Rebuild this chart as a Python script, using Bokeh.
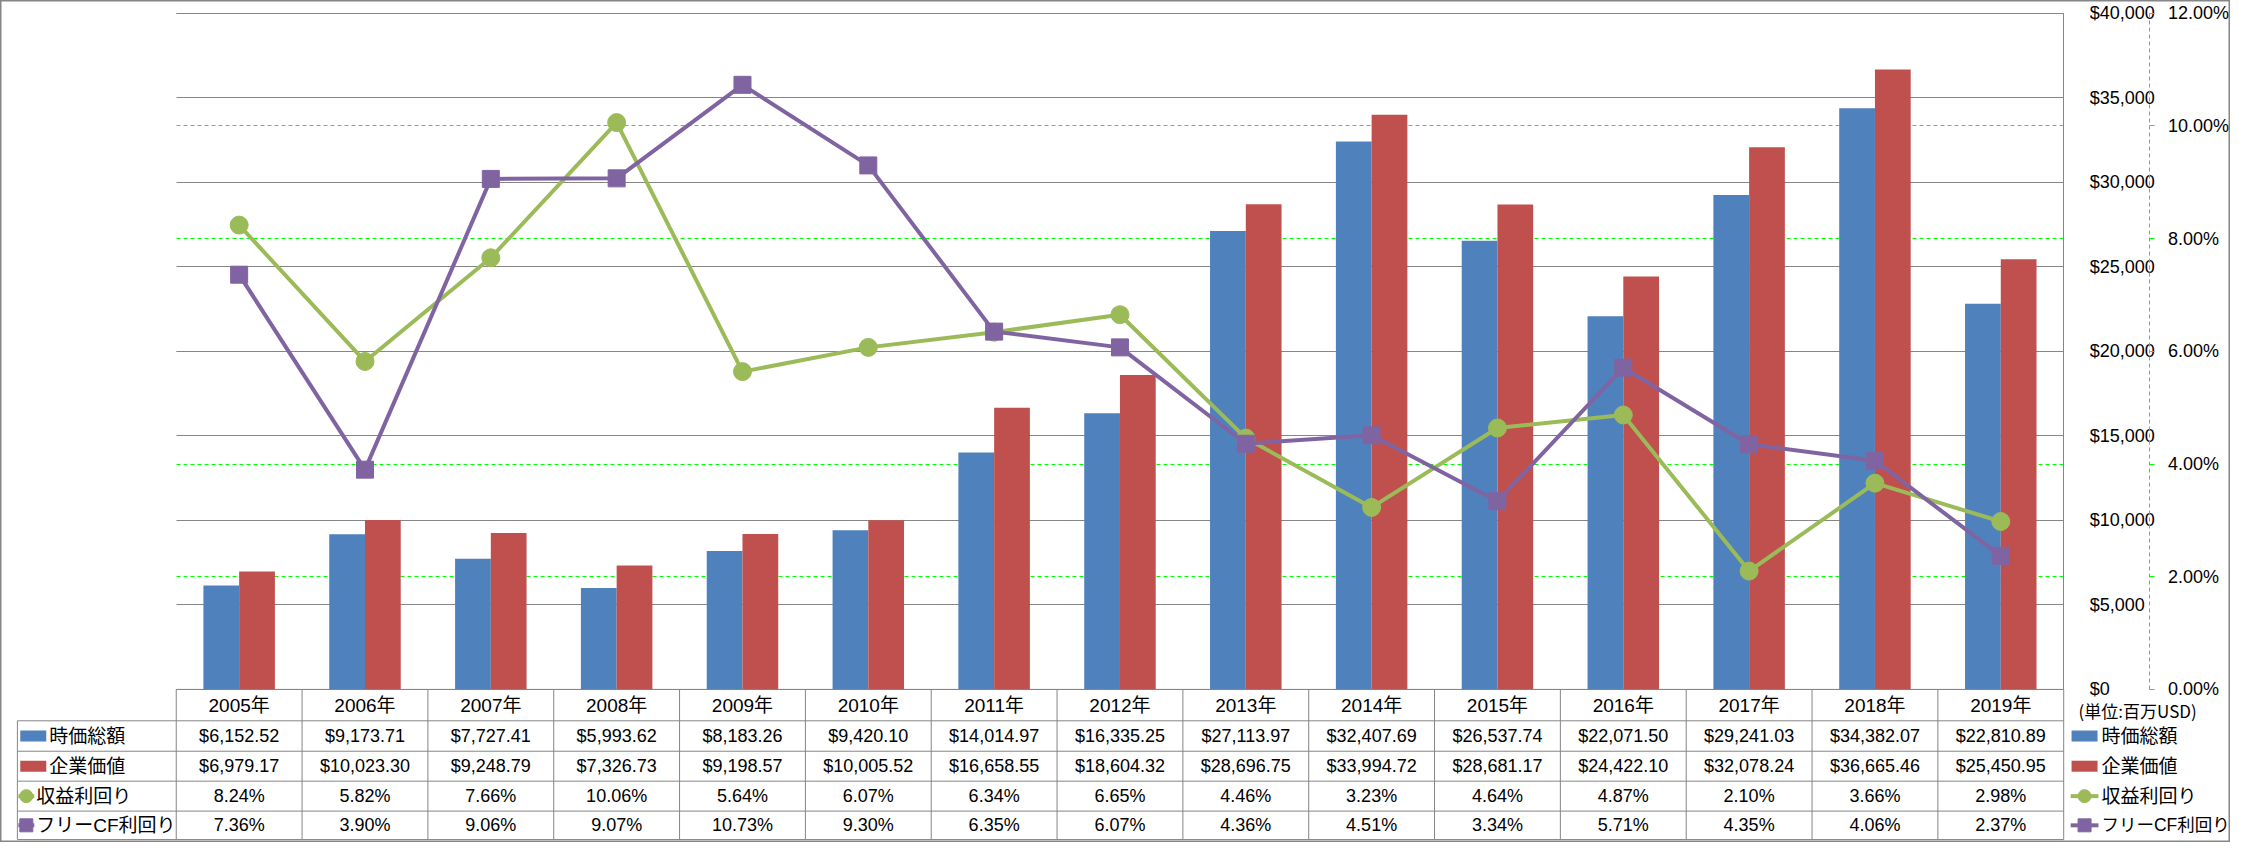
from bokeh.plotting import figure
from bokeh.models import (Range1d, LinearAxis, FixedTicker, NumeralTickFormatter,
                          PrintfTickFormatter, Grid, ColumnDataSource)
from bokeh.transform import dodge
from bokeh.core.properties import value
from bokeh.embed import file_html
from bokeh.resources import INLINE

# ---------------- data ----------------
years = ["2005年", "2006年", "2007年", "2008年", "2009年", "2010年", "2011年", "2012年",
         "2013年", "2014年", "2015年", "2016年", "2017年", "2018年", "2019年"]
market_cap = [6152.52, 9173.71, 7727.41, 5993.62, 8183.26, 9420.10, 14014.97, 16335.25,
              27113.97, 32407.69, 26537.74, 22071.50, 29241.03, 34382.07, 22810.89]
enterprise_value = [6979.17, 10023.30, 9248.79, 7326.73, 9198.57, 10005.52, 16658.55, 18604.32,
                    28696.75, 33994.72, 28681.17, 24422.10, 32078.24, 36665.46, 25450.95]
earnings_yield = [8.24, 5.82, 7.66, 10.06, 5.64, 6.07, 6.34, 6.65, 4.46, 3.23, 4.64, 4.87, 2.10, 3.66, 2.98]
fcf_yield = [7.36, 3.90, 9.06, 9.07, 10.73, 9.30, 6.35, 6.07, 4.36, 4.51, 3.34, 5.71, 4.35, 4.06, 2.37]
series_names = ["時価総額", "企業価値", "収益利回り", "フリーCF利回り"]
usd_ticks = [0, 5000, 10000, 15000, 20000, 25000, 30000, 35000, 40000]
pct_ticks = [0, 2, 4, 6, 8, 10, 12]
unit_label = "(単位:百万USD)"

# ---------------- layout (reference pixel geometry) ----------------
W, H = 2230, 842
REF_W, REF_H = 2246, 858
PL, PR, PT, PB = 177.0, 2078.0, 13.0, 702.0
N = len(years)
CAT_W = (PR - PL) / N
USD_MAX, PCT_MAX = 40000.0, 12.0

def xd(px):
    return (px - PL) / CAT_W - 0.5

def yd(py):
    return (PB - py) * USD_MAX / (PB - PT)

def yp(py):
    return (PB - py) * PCT_MAX / (PB - PT)

BLUE, RED, GREEN, PURPLE = "#4F81BD", "#C0504D", "#9BBB59", "#8064A2"
GRAY = "#868686"
FONT = "Liberation Sans, Noto Sans CJK JP"
JFONT = "Noto Sans CJK JP"

p = figure(width=W, height=H, x_range=Range1d(xd(0), xd(REF_W)),
           y_range=Range1d(yd(REF_H), yd(0)), x_axis_location=None, y_axis_location=None,
           toolbar_location=None, tools="", output_backend="svg", min_border=0, title=None)
p.min_border_left = p.min_border_right = p.min_border_top = p.min_border_bottom = 0
p.extra_y_ranges = {"pct": Range1d(yp(REF_H), yp(0))}
p.outline_line_color = GRAY
p.outline_line_width = 2
p.background_fill_color = "white"
p.border_fill_color = "white"
p.center = []

# grids
p.add_layout(Grid(dimension=1, ticker=FixedTicker(ticks=pct_ticks), y_range_name="pct",
                  cross_bounds=(-0.5, N - 0.5), grid_line_color="#00FF00",
                  grid_line_dash="4 3", grid_line_width=1))
p.add_layout(Grid(dimension=1, ticker=FixedTicker(ticks=usd_ticks),
                  cross_bounds=(-0.5, N - 0.5), grid_line_color=GRAY, grid_line_width=1))

idx = list(range(N))
src = ColumnDataSource(dict(x=idx, mc=market_cap, ev=enterprise_value,
                            ey=earnings_yield, fy=fcf_yield))
bw = 36.0 / CAT_W
p.vbar(x=dodge("x", -bw / 2, range=p.x_range), top="mc", width=bw, bottom=0,
       fill_color=BLUE, line_color=None, source=src)
p.vbar(x=dodge("x", bw / 2, range=p.x_range), top="ev", width=bw, bottom=0,
       fill_color=RED, line_color=None, source=src)

p.line("x", "ey", source=src, y_range_name="pct", line_color=GREEN, line_width=4)
p.scatter("x", "ey", source=src, y_range_name="pct", marker="circle", size=18,
          fill_color=GREEN, line_color=GREEN)
p.line("x", "fy", source=src, y_range_name="pct", line_color=PURPLE, line_width=4)
p.scatter("x", "fy", source=src, y_range_name="pct", marker="square", size=17,
          fill_color=PURPLE, line_color=PURPLE)

# axes
ax1 = LinearAxis(ticker=FixedTicker(ticks=usd_ticks), formatter=NumeralTickFormatter(format="$0,0"),
                 fixed_location=N - 0.5, bounds=(0, USD_MAX), axis_line_color=GRAY,
                 major_tick_out=0, major_tick_in=0, minor_tick_line_color=None,
                 major_label_standoff=26, major_label_text_font="Liberation Sans",
                 major_label_text_font_size="18px", major_label_text_color="black")
p.add_layout(ax1, "right")
ax2 = LinearAxis(y_range_name="pct", ticker=FixedTicker(ticks=pct_ticks),
                 formatter=PrintfTickFormatter(format="%.2f%%"), fixed_location=xd(2164),
                 bounds=(0, PCT_MAX), axis_line_color="#00FF00", axis_line_dash="4 3",
                 major_tick_out=5, major_tick_in=0, major_tick_line_color="#00FF00",
                 minor_tick_line_color=None, major_label_standoff=14,
                 major_label_text_font="Liberation Sans", major_label_text_font_size="18px",
                 major_label_text_color="black")
p.add_layout(ax2, "right")

# ---------------- data table ----------------
rows_px = [702, 734, 765, 795.5, 826, 855]
tl = 17
hx0 = [-0.5] + [xd(tl)] * 5
hx1 = [N - 0.5] * 6
p.segment(x0=hx0, x1=hx1, y0=[yd(r) for r in rows_px], y1=[yd(r) for r in rows_px],
          line_color=GRAY, line_width=1)
vx = [i - 0.5 for i in range(N + 1)] + [xd(tl)]
vy0 = [yd(702)] * (N + 1) + [yd(734)]
vy1 = [yd(855)] * (N + 2)
p.segment(x0=vx, x1=vx, y0=vy0, y1=vy1, line_color=GRAY, line_width=1)

centers = [(rows_px[i] + rows_px[i + 1]) / 2 for i in range(5)]
p.text(x=idx, y=[yd(centers[0])] * N, text=years, text_align="center", text_baseline="middle",
       text_font=value(FONT), text_font_size=value("19px"), text_color="black")
row_texts = [["${:,.2f}".format(v) for v in market_cap],
             ["${:,.2f}".format(v) for v in enterprise_value],
             ["{:.2f}%".format(v) for v in earnings_yield],
             ["{:.2f}%".format(v) for v in fcf_yield]]
for r, texts in enumerate(row_texts):
    p.text(x=idx, y=[yd(centers[r + 1])] * N, text=texts, text_align="center",
           text_baseline="middle", text_font=value("Liberation Sans"),
           text_font_size=value("18px"), text_color="black")

# row headers in the table
ry = [yd(c) for c in centers[1:]]
p.rect(x=[xd(33)] * 2, y=ry[:2], width=26, height=11, width_units="screen",
       height_units="screen", fill_color=[BLUE, RED], line_color=None)
p.segment(x0=[xd(18)] * 2, x1=[xd(34)] * 2, y0=ry[2:], y1=ry[2:],
          line_color=[GREEN, PURPLE], line_width=4)
p.scatter(x=[xd(26)], y=[ry[2]], marker="circle", size=13, fill_color=GREEN, line_color=GREEN)
p.scatter(x=[xd(26)], y=[ry[3]], marker="square", size=13, fill_color=PURPLE, line_color=PURPLE)
p.text(x=[xd(49), xd(49), xd(36), xd(36)], y=ry, text=series_names, text_align="left",
       text_baseline="middle", text_font=value(FONT), text_font_size=value("19px"),
       text_color="black")

# right legend
lk = 2099
p.rect(x=[xd(lk)] * 2, y=ry[:2], width=26, height=11, width_units="screen",
       height_units="screen", fill_color=[BLUE, RED], line_color=None)
p.segment(x0=[xd(2085)] * 2, x1=[xd(2113)] * 2, y0=ry[2:], y1=ry[2:],
          line_color=[GREEN, PURPLE], line_width=4)
p.scatter(x=[xd(lk)], y=[ry[2]], marker="circle", size=13, fill_color=GREEN, line_color=GREEN)
p.scatter(x=[xd(lk)], y=[ry[3]], marker="square", size=13, fill_color=PURPLE, line_color=PURPLE)
p.text(x=[xd(2116)] * 3, y=ry[:3], text=series_names[:3], text_align="left",
       text_baseline="middle", text_font=value(FONT), text_font_size=value("19px"),
       text_color="black")
p.text(x=[xd(2116)], y=ry[3:], text=series_names[3:], text_align="left",
       text_baseline="middle", text_font=value(FONT), text_font_size=value("17.5px"),
       text_color="black")

p.text(x=[xd(2093)], y=[yd(723)], text=[unit_label], text_align="left", text_baseline="middle",
       text_font=value(JFONT), text_font_size=value("17px"), text_color="black")

open("out.html", "w").write(file_html(p, INLINE))
